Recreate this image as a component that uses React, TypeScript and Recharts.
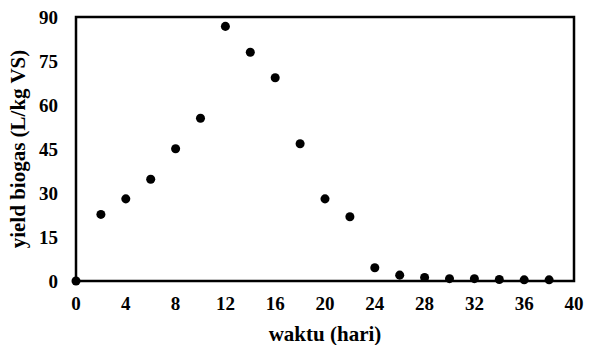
import React from 'react';
import {ScatterChart, Scatter, XAxis, YAxis, ZAxis, ReferenceArea} from 'recharts';

const days = [0, 2, 4, 6, 8, 10, 12, 14, 16, 18, 20, 22, 24, 26, 28, 30, 32, 34, 36, 38];
const yieldBiogas = [0, 22.7, 28, 34.7, 45.1, 55.5, 86.8, 78, 69.3, 46.8, 28, 21.9, 4.5, 2, 1.2, 0.8, 0.8, 0.5, 0.4, 0.4];
const xTicks = [0, 4, 8, 12, 16, 20, 24, 28, 32, 36, 40];
const yTicks = [0, 15, 30, 45, 60, 75, 90];

const points = days.map((d, i) => ({x: d, y: yieldBiogas[i]}));

const font = {fontFamily: '"Liberation Serif", "Times New Roman", serif', fontWeight: 700, fontSize: 19, fill: '#000'};
const labelFont = {...font, fontSize: 21};

const App = () => {
    return (
        <div style={{position: 'absolute', left: 0, top: 0}}>
            <ScatterChart width={597} height={345} margin={{top: 17, right: 23, bottom: 4, left: 10}}>
                <XAxis type="number" dataKey="x" domain={[0, 40]} ticks={xTicks} tickLine={false}
                       axisLine={false} tick={font} tickMargin={10} height={60}
                       label={{value: 'waktu (hari)', position: 'insideBottom', offset: 0, style: labelFont}}/>
                <YAxis type="number" dataKey="y" domain={[0, 90]} ticks={yTicks} tickLine={false}
                       axisLine={false} tick={font} tickMargin={12} width={66}
                       label={{value: 'yield biogas (L/kg VS)', angle: -90, position: 'insideLeft', offset: 8, style: {...labelFont, textAnchor: 'middle'}}}/>
                <ZAxis range={[105, 105]}/>
                <ReferenceArea x1={0} x2={40} y1={0} y2={90} fill="none" stroke="#000" strokeWidth={2.5} fillOpacity={0} ifOverflow="visible"/>
                <Scatter data={points} fill="#000" isAnimationActive={false}/>
            </ScatterChart>
        </div>
    );
};

export default App;
